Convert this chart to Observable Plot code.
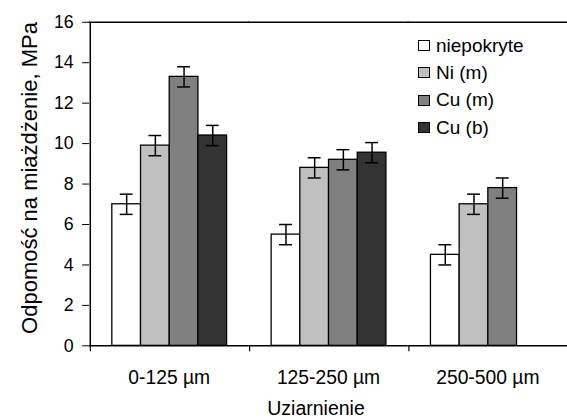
<!DOCTYPE html>
<html>
<head>
<meta charset="utf-8">
<script src="https://cdn.jsdelivr.net/npm/d3@7"></script>
<script src="https://cdn.jsdelivr.net/npm/@observablehq/plot@0.6"></script>
<style>
  html, body { margin: 0; padding: 0; background: white; }
  #wrap { position: relative; width: 567px; height: 419px; overflow: hidden; background: white;
          font-family: "Liberation Sans", Arial, sans-serif; color: #000; }
  #chart { position: absolute; left: 0; top: 0; }
  .legend { position: absolute; left: 418px; top: 32px; font-size: 19px; }
  .legend .row { display: flex; align-items: center; height: 27.3px; white-space: nowrap; }
  .legend .sw { width: 10px; height: 9px; border: 1.3px solid #000; margin-right: 6px; box-sizing: content-box; }
  .ytitle { position: absolute; left: 30px; top: 178px; font-size: 22px; white-space: nowrap;
            transform: translate(-50%, -50%) rotate(-90deg); }
  .xtitle { position: absolute; left: 316px; top: 397px; font-size: 19.5px; white-space: nowrap;
            transform: translateX(-50%); }
</style>
</head>
<body>
<div id="wrap">
  <div id="chart"></div>
  <div class="ytitle">Odpomość na miażdżenie, MPa</div>
  <div class="xtitle">Uziarnienie</div>
  <div class="legend" id="legend"></div>
</div>
<script>
// Data
const groups = ["0-125 µm", "125-250 µm", "250-500 µm"];
const seriesNames = ["niepokryte", "Ni (m)", "Cu (m)", "Cu (b)"];
const niepokryte = [7.0, 5.5, 4.5];
const niM = [9.9, 8.8, 7.0];
const cuM = [13.3, 9.2, 7.8];
const cuB = [10.4, 9.55, null];
const errNiepokryte = [0.5, 0.5, 0.5];
const errNiM = [0.5, 0.5, 0.5];
const errCuM = [0.5, 0.5, 0.5];
const errCuB = [0.5, 0.5, null];
const yTicks = [0, 2, 4, 6, 8, 10, 12, 14, 16];
const colors = ["#ffffff", "#c0c0c0", "#808080", "#333333"];

const seriesValues = [niepokryte, niM, cuM, cuB];
const seriesErrors = [errNiepokryte, errNiM, errCuM, errCuB];
const rows = [];
seriesValues.forEach((vals, si) => vals.forEach((v, gi) => {
  if (v != null) rows.push({group: groups[gi], series: seriesNames[si], value: v, err: seriesErrors[si][gi]});
}));

// left edge of a facet panel, derived from the band scale
function panelLeft(x) {
  const step = x(seriesNames[1]) - x(seriesNames[0]);
  return x(seriesNames[0]) - 0.75 * step;
}

// Group boundary ticks on the category axis (Excel style), drawn in every panel
const boundaryTicks = Plot.ruleY([0], {
  render: (index, scales) => {
    const left = panelLeft(scales.x);
    const y0 = scales.y(0);
    const g = d3.create("svg:g");
    g.append("line").attr("x1", left).attr("x2", left).attr("y1", y0).attr("y2", y0 + 6)
      .attr("stroke", "#000").attr("stroke-width", 1.2);
    return g.node();
  }
});

// Value axis line, drawn only in the first panel
const valueAxisLine = Plot.ruleY([{g: groups[0]}], {
  fx: "g",
  y: () => 0,
  render: (index, scales) => {
    const g = d3.create("svg:g");
    if (index.length) {
      const left = panelLeft(scales.x);
      g.append("line").attr("x1", left).attr("x2", left).attr("y1", scales.y(16)).attr("y2", scales.y(0))
        .attr("stroke", "#000").attr("stroke-width", 1.5);
    }
    return g.node();
  }
});

const chart = Plot.plot({
  width: 573,
  height: 419,
  marginLeft: 90,
  marginRight: 0,
  marginTop: 22,
  marginBottom: 70,
  style: {fontFamily: "'Liberation Sans', Arial, sans-serif", fontSize: "18px", color: "#000", background: "transparent", overflow: "visible"},
  fx: {domain: groups, padding: 0, axis: null},
  x: {domain: seriesNames, paddingInner: 0, paddingOuter: 0.75, axis: null},
  y: {domain: [0, 16], axis: null},
  color: {domain: seriesNames, range: colors},
  marks: [
    Plot.barY(rows, {fx: "group", x: "series", y: "value", fill: "series", stroke: "#000", strokeWidth: 1.3}),
    Plot.ruleX(rows, {fx: "group", x: "series", y1: d => d.value - d.err, y2: d => d.value + d.err, stroke: "#000", strokeWidth: 1.5}),
    Plot.tickY(rows, {fx: "group", x: "series", y: d => d.value + d.err, insetLeft: 8, insetRight: 8, stroke: "#000", strokeWidth: 1.5}),
    Plot.tickY(rows, {fx: "group", x: "series", y: d => d.value - d.err, insetLeft: 8, insetRight: 8, stroke: "#000", strokeWidth: 1.5}),
    Plot.ruleY([0], {stroke: "#000", strokeWidth: 1.5}),
    Plot.frame({anchor: "top", stroke: "#000", strokeWidth: 1.5}),
    Plot.axisY({ticks: yTicks, tickSize: 7, tickPadding: 9, label: null, fontSize: 18, stroke: "#000"}),
    Plot.axisFx({anchor: "bottom", tickSize: 0, tickPadding: 25, label: null, fontSize: 19.5}),
    boundaryTicks,
    valueAxisLine
  ]
});
document.getElementById("chart").appendChild(chart);

// Legend
const legend = document.getElementById("legend");
seriesNames.forEach((name, i) => {
  const row = document.createElement("div");
  row.className = "row";
  const sw = document.createElement("span");
  sw.className = "sw";
  sw.style.background = colors[i];
  const t = document.createElement("span");
  t.textContent = name;
  row.appendChild(sw);
  row.appendChild(t);
  legend.appendChild(row);
});
</script>
</body>
</html>
